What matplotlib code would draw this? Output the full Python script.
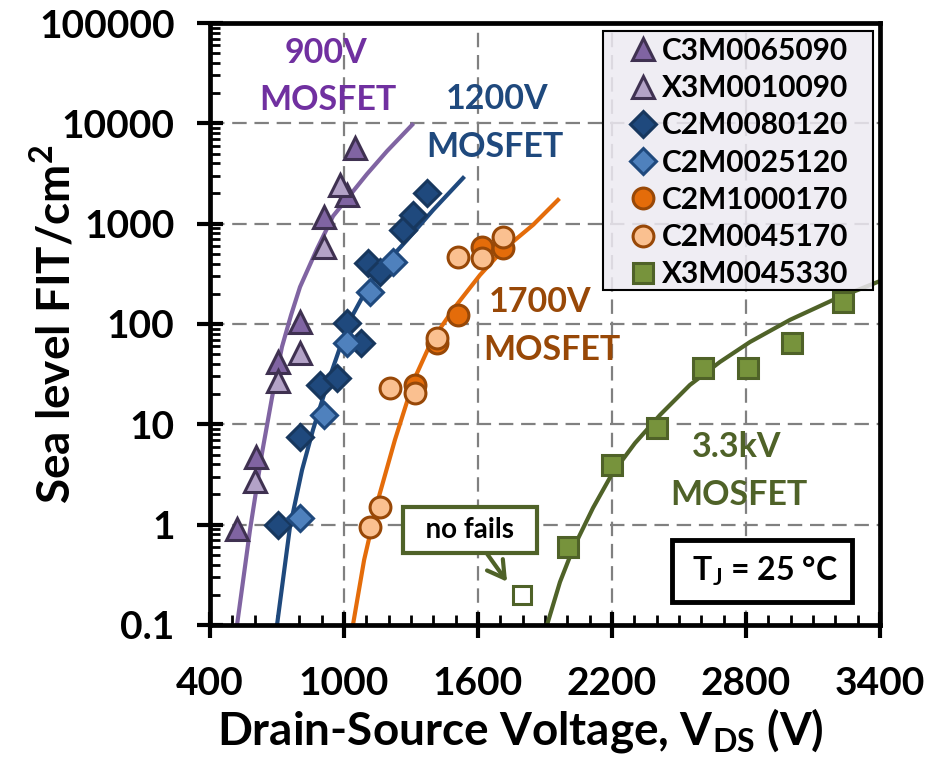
import numpy as np
import matplotlib
matplotlib.use("Agg")
import matplotlib.pyplot as plt
from matplotlib.patches import Rectangle
from matplotlib.ticker import FixedLocator, FixedFormatter, MultipleLocator, LogLocator, NullFormatter

plt.rcParams["font.family"] = ["Lato", "DejaVu Sans"]
plt.rcParams["font.weight"] = "bold"
plt.rcParams["mathtext.fontset"] = "custom"
plt.rcParams["mathtext.rm"] = "Lato"
plt.rcParams["mathtext.bf"] = "Lato:bold"

# --- measured single-event-burnout FIT rates ---------------------------------
# 900 V parts
c3m0065090_v = [521, 606, 705, 803, 911, 1013, 1049]
c3m0065090_fit = [0.9, 4.7, 42, 105, 1170, 1950, 5700]
x3m0010090_v = [601, 705, 803, 911, 982]
x3m0010090_fit = [2.7, 27, 51, 590, 2450]

# 1200 V parts
c2m0080120_v = [705, 803, 893, 969, 1013, 1076, 1107, 1161, 1264, 1309, 1372]
c2m0080120_fit = [1.0, 7.5, 24.7, 29, 102, 64, 405, 330, 870, 1225, 2030]
c2m0025120_v = [803, 911, 1013, 1116, 1219]
c2m0025120_fit = [1.17, 12.4, 64, 209, 418]

# 1700 V parts
c2m1000170_v = [1318, 1416, 1510, 1618, 1712]
c2m1000170_fit = [24.7, 65, 123, 587, 574]
c2m0045170_v = [1116, 1161, 1206, 1318, 1416, 1510, 1618, 1712]
c2m0045170_fit = [0.95, 1.5, 23, 20.6, 72, 467, 457, 738]

# 3.3 kV part
x3m0045330_v = [2003, 2200, 2402, 2607, 2809, 3006, 3234]
x3m0045330_fit = [0.6, 3.9, 9.2, 36.5, 36.5, 65, 166]
no_fail_v = [1797]
no_fail_fit = [0.2]

# --- fitted curves -------------------------------------------------------------
fit900_v = [521, 579, 633, 678, 722, 763, 803, 879, 951, 1027, 1103, 1193, 1305]
fit900_fit = [0.1, 0.885, 5.2, 18.7, 59, 123, 234, 560, 1190, 1930, 3125, 5300, 9660]
fit1200_v = [700, 758, 812, 861, 924, 978, 1027, 1107, 1188, 1282, 1399, 1533]
fit1200_fit = [0.1, 0.95, 3.5, 8.8, 24.7, 55, 110, 234, 405, 687, 1368, 2850]
fit1700_v = [1040, 1090, 1152, 1228, 1313, 1394, 1497, 1609, 1712, 1846, 1958]
fit1700_fit = [0.1, 0.445, 1.76, 7.0, 27.7, 69, 148, 308, 547, 970, 1722]
fit3300_v = [1909, 1967, 2025, 2115, 2200, 2303, 2415, 2549, 2683, 2818, 2997, 3198, 3400]
fit3300_fit = [0.1, 0.268, 0.572, 1.47, 3.2, 6.5, 12.4, 24.7, 41.8, 66.2, 110, 177, 268]

x_ticks = [400, 1000, 1600, 2200, 2800, 3400]
y_ticks = [0.1, 1, 10, 100, 1000, 10000, 100000]
y_ticklabels = ["0.1", "1", "10", "100", "1000", "10000", "100000"]

PURPLE_LINE = "#8064A2"
PURPLE_TXT = "#7030A0"
PURPLE_EDGE = "#3F3151"
BLUE = "#1F497D"
BLUE_EDGE = "#17375E"
ORANGE = "#E46C0A"
BROWN = "#984807"
GREEN = "#77933C"
GREEN_DK = "#4F6228"

fig = plt.figure(figsize=(9.33, 7.57), dpi=100)
ax = fig.add_axes([0.2251, 0.1744, 0.7181, 0.7952])

ax.set_yscale("log")
ax.set_xlim(400, 3400)
ax.set_ylim(0.1, 100000)

# fit lines underneath the markers
lw = 3.0
ax.plot(fit900_v, fit900_fit, color=PURPLE_LINE, lw=lw, zorder=2)
ax.plot(fit1200_v, fit1200_fit, color=BLUE, lw=lw, zorder=2)
ax.plot(fit1700_v, fit1700_fit, color=ORANGE, lw=lw, zorder=2)
ax.plot(fit3300_v, fit3300_fit, color=GREEN_DK, lw=lw, zorder=2)

mew = 2.2
ax.plot(c3m0065090_v, c3m0065090_fit, "^", ms=16, mfc=PURPLE_LINE, mec=PURPLE_EDGE,
        mew=mew, ls="none", zorder=3, label="C3M0065090")
ax.plot(x3m0010090_v, x3m0010090_fit, "^", ms=16, mfc="#B3A2C7", mec=PURPLE_EDGE,
        mew=mew, ls="none", zorder=3, label="X3M0010090")
ax.plot(c2m0080120_v, c2m0080120_fit, "D", ms=13, mfc=BLUE, mec=BLUE_EDGE,
        mew=mew, ls="none", zorder=3, label="C2M0080120")
ax.plot(c2m0025120_v, c2m0025120_fit, "D", ms=13, mfc="#4F81BD", mec=BLUE,
        mew=mew, ls="none", zorder=3, label="C2M0025120")
ax.plot(c2m1000170_v, c2m1000170_fit, "o", ms=15, mfc=ORANGE, mec=BROWN,
        mew=mew, ls="none", zorder=3, label="C2M1000170")
ax.plot(c2m0045170_v, c2m0045170_fit, "o", ms=15, mfc="#FAC090", mec=BROWN,
        mew=mew, ls="none", zorder=3, label="C2M0045170")
ax.plot(x3m0045330_v, x3m0045330_fit, "s", ms=14, mfc=GREEN, mec=GREEN_DK,
        mew=mew, ls="none", zorder=3, label="X3M0045330")
ax.plot(no_fail_v, no_fail_fit, "s", ms=13, mfc="white", mec=GREEN_DK,
        mew=mew, ls="none", zorder=3)

# axes, ticks and grid
ax.xaxis.set_major_locator(FixedLocator(x_ticks))
ax.xaxis.set_minor_locator(MultipleLocator(100))
ax.yaxis.set_major_locator(FixedLocator(y_ticks))
ax.yaxis.set_major_formatter(FixedFormatter(y_ticklabels))
ax.yaxis.set_minor_locator(LogLocator(base=10, subs=np.arange(2, 10), numticks=20))
ax.yaxis.set_minor_formatter(NullFormatter())

ax.tick_params(which="major", direction="inout", length=19, width=3, labelsize=28)
ax.tick_params(axis="x", which="major", pad=20)
ax.tick_params(axis="y", which="major", pad=16)
ax.tick_params(which="minor", direction="in", length=7, width=2)
for s in ax.spines.values():
    s.set_linewidth(3.4)
ax.grid(True, which="major", color="#808080", lw=1.6, ls=(0, (6.5, 3.5)), zorder=0)
ax.set_axisbelow(True)

ax.set_xlabel(r"Drain-Source Voltage, V$_{\mathbf{DS}}$ (V)", fontsize=33, fontweight="bold")
ax.xaxis.set_label_coords(0.4627, -0.135)
ax.set_ylabel(r"Sea level FIT/cm$^{\mathbf{2}}$", fontsize=33, fontweight="bold")
ax.yaxis.set_label_coords(-0.1955, 0.5)

# family labels
lab = dict(fontsize=24.5, fontweight="bold", ha="center", va="center", zorder=4)
ax.text(919, 50200, "900V", color=PURPLE_TXT, **lab)
ax.text(928, 17000, "MOSFET", color=PURPLE_TXT, **lab)
ax.text(1685, 17500, "1200V", color=BLUE, **lab)
ax.text(1676, 5800, "MOSFET", color=BLUE, **lab)
ax.text(1878, 166, "1700V", color=BROWN, **lab)
ax.text(1931, 55, "MOSFET", color=BROWN, **lab)
ax.text(2760, 5.9, "3.3kV", color=GREEN_DK, **lab)
ax.text(2769, 1.98, "MOSFET", color=GREEN_DK, **lab)

ax.annotate("  no fails  ", xy=(1730, 0.27), xytext=(1564, 0.885),
            fontsize=20, fontweight="bold", ha="center", va="center", zorder=6,
            bbox=dict(boxstyle="square,pad=0.35", fc="white", ec=GREEN_DK, lw=3),
            arrowprops=dict(arrowstyle="->,head_length=0.6,head_width=0.35",
                            color=GREEN_DK, lw=3, shrinkA=0, shrinkB=0))

ax.text(2872, 0.345, r" T$_{\mathbf{J}}$ = 25 °C ", fontsize=23, fontweight="bold",
        ha="center", va="center", zorder=6,
        bbox=dict(boxstyle="square,pad=0.42", fc="white", ec="black", lw=3.5))

# legend: drawn frameless over a translucent panel
ax.add_patch(Rectangle((0.5866, 0.5565), 0.403, 0.4302, transform=ax.transAxes,
                       fc="#EDEAF2", ec="none", alpha=0.85, zorder=4.5))
ax.add_patch(Rectangle((0.5866, 0.5565), 0.403, 0.4302, transform=ax.transAxes,
                       fc="none", ec="black", lw=1.5, zorder=4.6))
leg = ax.legend(loc="upper left", bbox_to_anchor=(0.6254, 0.977), borderaxespad=0,
                fontsize=21.5, handlelength=0.95, handletextpad=0.15, labelspacing=0.31,
                borderpad=0, frameon=False, markerscale=1.0)
leg.set_zorder(5)
for t in leg.get_texts():
    t.set_fontweight("bold")

fig.savefig("out.png", dpi=100)
